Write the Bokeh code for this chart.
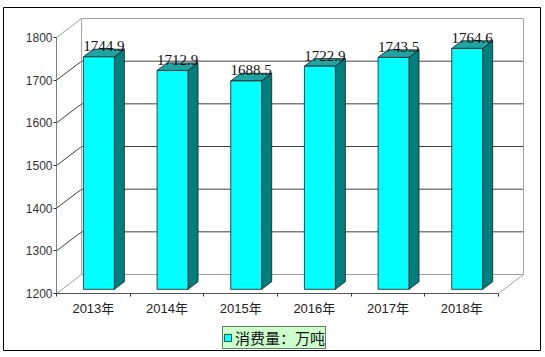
from bokeh.plotting import figure
from bokeh.models import Range1d, FixedTicker, Legend, LegendItem
from bokeh.core.properties import value
from bokeh.embed import file_html
from bokeh.resources import INLINE

# ---- data ----
categories = ["2013年", "2014年", "2015年", "2016年", "2017年", "2018年"]
consumption = [1744.9, 1712.9, 1688.5, 1722.9, 1743.5, 1764.6]
y_ticks = [1200, 1300, 1400, 1500, 1600, 1700, 1800]
series_name = "消费量：万吨"

# ---- 3D layout constants ----
N = len(categories)
Y0, Y1 = y_ticks[0], y_ticks[-1]
DX = 0.34      # depth offset in category units
DY = 44.5      # depth offset in value units
BW = 0.42      # bar width in category units
F0, F1 = 0.22, 0.62  # bar front / back depth fraction

p = figure(width=545, height=357, output_backend="svg", toolbar_location=None,
           x_range=Range1d(-0.72, 6.57), y_range=Range1d(1066.4, 1870.3),
           min_border_left=3, min_border_right=5, min_border_top=7,
           min_border_bottom=7)
p.outline_line_color = "#000000"
p.outline_line_width = 1
p.xgrid.visible = False
p.ygrid.visible = False
p.background_fill_color = "white"
p.border_fill_color = "white"

EDGE = "#A0A0A0"
GRID = "#404040"

# back wall horizontal grid lines and left wall diagonals
gcol = [EDGE if v in (Y0, Y1) else GRID for v in y_ticks]
p.segment(x0=[DX] * len(y_ticks), y0=[v + DY for v in y_ticks],
          x1=[N + DX] * len(y_ticks), y1=[v + DY for v in y_ticks],
          line_color=gcol, line_width=1)
p.segment(x0=[0] * len(y_ticks), y0=y_ticks,
          x1=[DX] * len(y_ticks), y1=[v + DY for v in y_ticks],
          line_color=gcol, line_width=1)
# back wall verticals
p.segment(x0=[DX, N + DX], y0=[Y0 + DY] * 2, x1=[DX, N + DX], y1=[Y1 + DY] * 2,
          line_color=EDGE, line_width=1)
# floor right edge
p.segment(x0=[N], y0=[Y0], x1=[N + DX], y1=[Y0 + DY], line_color=EDGE, line_width=1)

# ---- bars ----
left = [i + 0.5 - BW / 2 + F0 * DX for i in range(N)]
right = [l + BW for l in left]
ddx = (F1 - F0) * DX
ddy = (F1 - F0) * DY
bot_f = Y0 + F0 * DY
tops_f = [v + F0 * DY for v in consumption]

side_xs = [[r, r + ddx, r + ddx, r] for r in right]
side_ys = [[bot_f, bot_f + ddy, t + ddy, t] for t in tops_f]
top_xs = [[l, r, r + ddx, l + ddx] for l, r in zip(left, right)]
top_ys = [[t, t, t + ddy, t + ddy] for t in tops_f]

p.patches(xs=side_xs, ys=side_ys, fill_color="#007F7F", line_color="#1a1a1a", line_width=0.8)
p.patches(xs=top_xs, ys=top_ys, fill_color="#1FA3A3", line_color="#1a1a1a", line_width=0.8)
bars = p.quad(left=left, right=right, bottom=[bot_f] * N, top=tops_f,
              fill_color="#00FFFF", line_color="#1a1a1a", line_width=0.8)

# value labels
lab_x = [(l + r) / 2 + ddx / 2 for l, r in zip(left, right)]
lab_y = [t + ddy for t in tops_f]
p.text(x=lab_x, y=lab_y, text=[f"{v:.1f}" for v in consumption],
       text_font=value("Liberation Serif"), text_font_size="15px",
       text_align="center", text_baseline="bottom", text_color="#111111",
       y_offset=2)

# ---- axes (drawn at fixed data locations inside the frame) ----
xa = p.xaxis[0]
xa.fixed_location = Y0
xa.ticker = FixedTicker(ticks=[i + 0.5 for i in range(N)], minor_ticks=list(range(N + 1)))
xa.major_label_overrides = {i + 0.5: c for i, c in enumerate(categories)}
xa.bounds = (0, N)
xa.axis_line_color = "#555555"
xa.major_tick_line_color = None
xa.major_tick_out = 0
xa.major_tick_in = 0
xa.minor_tick_out = 3
xa.minor_tick_in = 0
xa.minor_tick_line_color = "#333333"
xa.major_label_standoff = 5
xa.major_label_text_font = "'Liberation Sans', 'Noto Sans CJK SC'"
xa.major_label_text_font_size = "13px"
xa.major_label_text_color = "#222222"

ya = p.yaxis[0]
ya.fixed_location = 0
ya.ticker = FixedTicker(ticks=y_ticks, minor_ticks=[])
ya.bounds = (Y0, Y1)
ya.axis_line_color = "#808080"
ya.major_tick_out = 3
ya.major_tick_in = 0
ya.major_tick_line_color = "#333333"
ya.minor_tick_line_color = None
ya.major_label_standoff = 1
ya.major_label_text_font = "Liberation Sans"
ya.major_label_text_font_size = "12px"
ya.major_label_text_color = "#333333"

# ---- legend ----
legend = Legend(items=[LegendItem(label=series_name, renderers=[bars])],
                location=(219, 1))
legend.background_fill_color = "#CCFFCC"
legend.background_fill_alpha = 1
legend.border_line_color = "#000000"
legend.border_line_width = 1
legend.padding = 0
legend.margin = 0
legend.spacing = 0
legend.glyph_width = 9
legend.glyph_height = 9
legend.label_standoff = 3
legend.label_height = 14
legend.label_text_font = "Noto Sans CJK SC"
legend.label_text_font_size = "15px"
legend.label_text_color = "#111111"
p.add_layout(legend, "center")

open("out.html", "w").write(file_html(p, INLINE))
